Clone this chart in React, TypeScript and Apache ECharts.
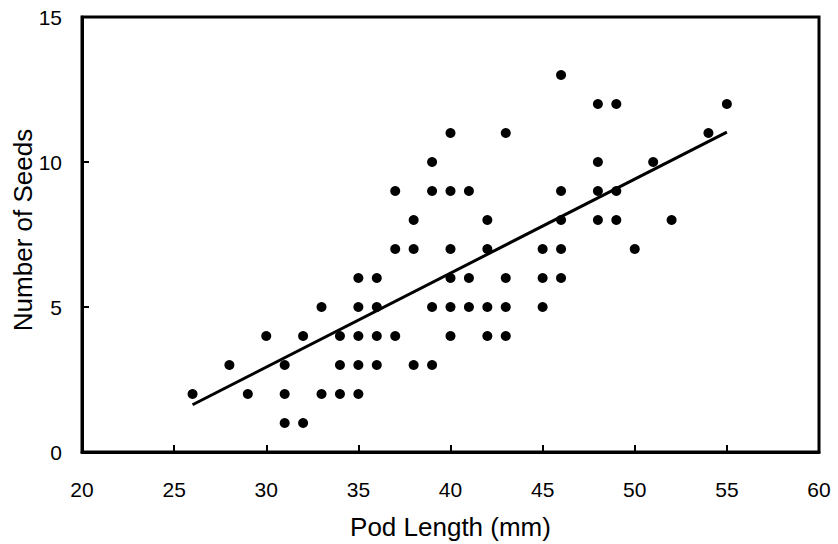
import React, { useEffect, useRef } from "react";
import * as echarts from "echarts";

// Pod length (mm) for each observed pod
const podLength: number[] = [
  26, 28, 29, 30,
  31, 31, 31,
  32, 32,
  33, 33,
  34, 34, 34,
  35, 35, 35, 35, 35,
  36, 36, 36, 36,
  37, 37, 37,
  38, 38, 38,
  39, 39, 39, 39,
  40, 40, 40, 40, 40, 40,
  41, 41, 41,
  42, 42, 42, 42,
  43, 43, 43, 43,
  45, 45, 45,
  46, 46, 46, 46, 46,
  48, 48, 48, 48,
  49, 49, 49,
  50, 51, 52, 54, 55,
];
// Number of seeds for each pod (same order)
const seedCount: number[] = [
  2, 3, 2, 4,
  3, 2, 1,
  4, 1,
  5, 2,
  4, 3, 2,
  6, 5, 4, 3, 2,
  6, 5, 4, 3,
  9, 7, 4,
  8, 7, 3,
  10, 9, 5, 3,
  11, 9, 7, 6, 5, 4,
  9, 6, 5,
  8, 7, 5, 4,
  11, 6, 5, 4,
  7, 6, 5,
  13, 9, 8, 7, 6,
  12, 10, 9, 8,
  12, 9, 8,
  7, 10, 8, 11, 12,
];
// Fitted trend line endpoints
const trendX: number[] = [26, 55];
const trendY: number[] = [1.63, 11.03];

const xTicks = { min: 20, max: 60, interval: 5 };
const yTicks = { min: 0, max: 15, interval: 5 };

const FONT = "'Liberation Sans', Arial, sans-serif";

export default function App() {
  const ref = useRef<HTMLDivElement>(null);

  useEffect(() => {
    if (!ref.current) return;
    const chart = echarts.init(ref.current, undefined, { renderer: "svg" });
    const points = podLength.map((x, i) => [x, seedCount[i]]);
    const trend = trendX.map((x, i) => [x, trendY[i]]);
    chart.setOption({
      animation: false,
      backgroundColor: "#ffffff",
      grid: {
        left: 82,
        right: 19,
        top: 17,
        bottom: 92,
        outerBoundsMode: "none",
        containLabel: false,
        show: true,
        borderColor: "#000",
        borderWidth: 3,
        backgroundColor: "transparent",
      },
      graphic: [
        {
          type: "text",
          x: 23,
          y: 230,
          rotation: Math.PI / 2,
          style: {
            text: "Number of Seeds",
            font: `26px ${FONT}`,
            fill: "#000",
            textAlign: "center",
            textVerticalAlign: "middle",
          },
        },
      ],
      xAxis: {
        type: "value",
        min: xTicks.min,
        max: xTicks.max,
        interval: xTicks.interval,
        name: "Pod Length (mm)",
        nameLocation: "middle",
        nameGap: 62,
        nameTextStyle: { fontFamily: FONT, fontSize: 26, color: "#000" },
        axisLine: { show: true, lineStyle: { color: "#000", width: 3 } },
        axisTick: { show: true, inside: true, length: 7, lineStyle: { color: "#000", width: 2 } },
        axisLabel: { fontFamily: FONT, fontSize: 21, color: "#000", margin: 27 },
        splitLine: { show: false },
      },
      yAxis: {
        type: "value",
        min: yTicks.min,
        max: yTicks.max,
        interval: yTicks.interval,
        axisLine: { show: true, lineStyle: { color: "#000", width: 3 } },
        axisTick: { show: true, inside: true, length: 7, lineStyle: { color: "#000", width: 2 } },
        axisLabel: { fontFamily: FONT, fontSize: 21, color: "#000", margin: 20 },
        splitLine: { show: false },
      },
      series: [
        {
          type: "scatter",
          data: points,
          symbol: "circle",
          symbolSize: 10,
          itemStyle: { color: "#000", opacity: 1 },
        },
        {
          type: "line",
          data: trend,
          showSymbol: false,
          lineStyle: { color: "#000", width: 3 },
        },
      ],
    });
    return () => chart.dispose();
  }, []);

  return (
    <div
      ref={ref}
      style={{ position: "fixed", left: 0, top: 0, width: 838, height: 544, background: "#fff" }}
    />
  );
}
